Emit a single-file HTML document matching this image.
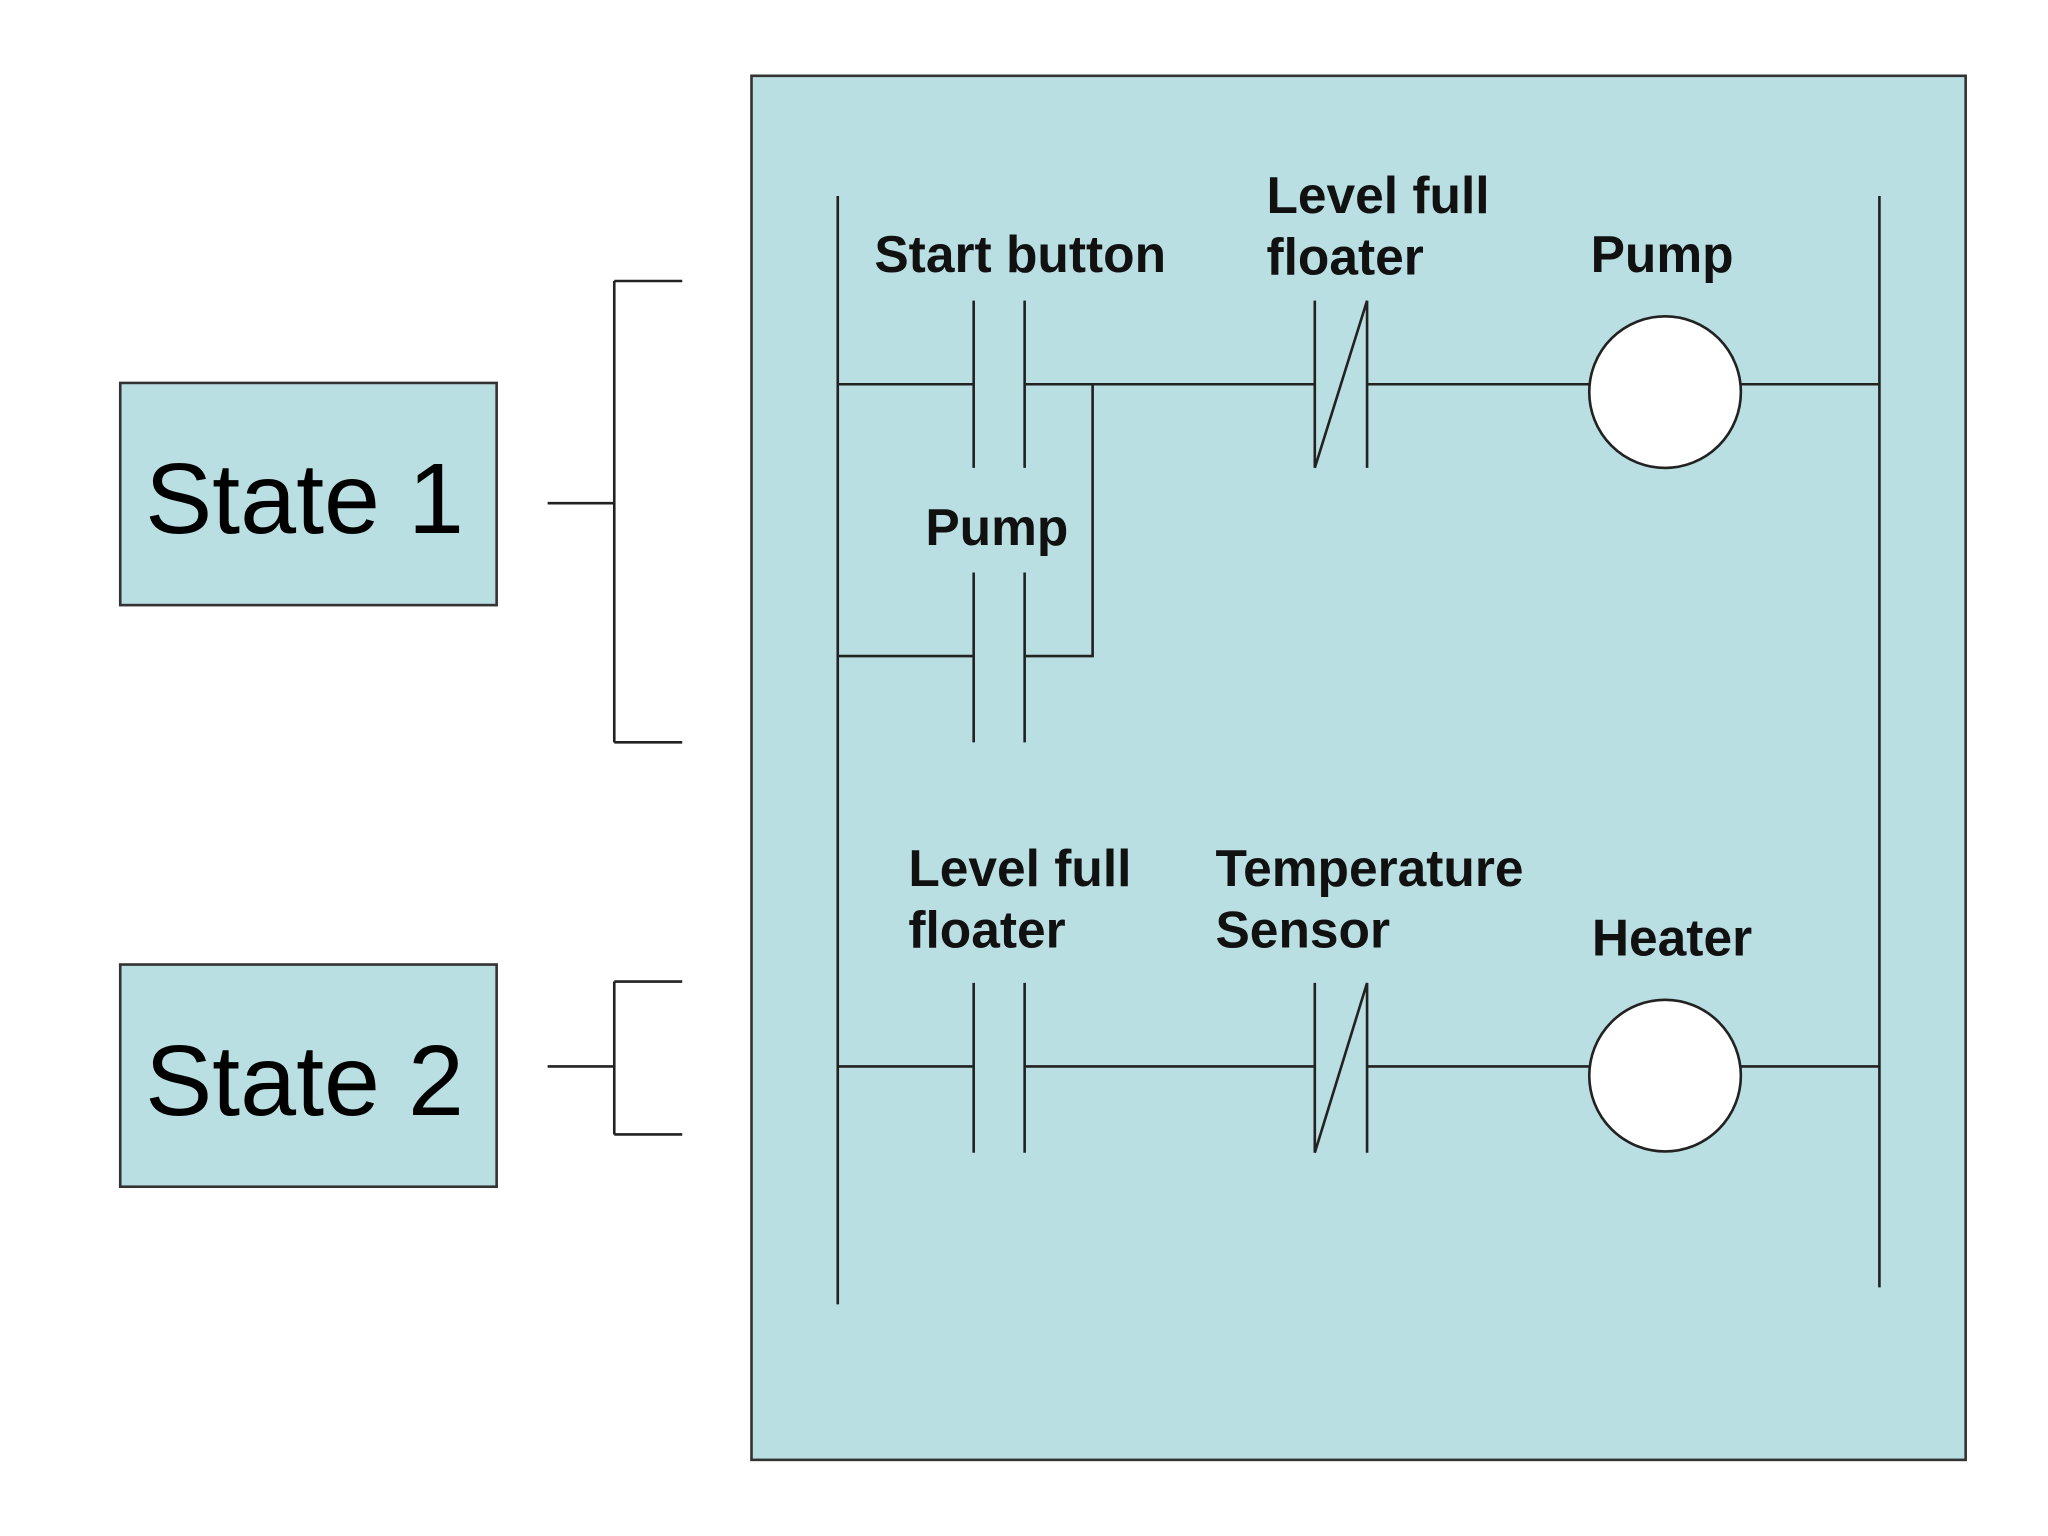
<!DOCTYPE html>
<html><head><style>html,body{margin:0;padding:0;background:#fff;}svg{display:block;}</style></head>
<body>
<svg width="2048" height="1536" viewBox="0 0 1567 1175.25" preserveAspectRatio="none" xmlns="http://www.w3.org/2000/svg">
<rect x="0" y="0" width="1567" height="1176" fill="#fff"/>
<rect x="575" y="58" width="929" height="1059" fill="#badfe2" stroke="#333" stroke-width="2"/>
<rect x="92" y="293" width="288" height="170" fill="#badfe2" stroke="#333" stroke-width="2"/>
<rect x="92" y="738" width="288" height="170" fill="#badfe2" stroke="#333" stroke-width="2"/>
<g font-family="Liberation Sans, sans-serif" font-size="77" fill="#000">
<text x="111" y="408">State 1</text>
<text x="111" y="853">State 2</text>
</g>
<g stroke="#222" stroke-width="2" fill="none">
<path d="M419 385H470M470 215V568M470 215H522M470 568H522"/>
<path d="M419 816H470M470 751V868M470 751H522M470 868H522"/>
<path d="M641 150V998M1438 150V985"/>
<path d="M641 294H745M745 230V358M784 230V358M784 294H1006M1006 230V358M1046 230V358M1006 358L1046 230M1046 294H1217M1332 294H1438"/>
<path d="M641 502H745M745 438V568M784 438V568M784 502H836V294"/>
<path d="M641 816H745M745 752V882M784 752V882M784 816H1006M1006 752V882M1046 752V882M1006 882L1046 752M1046 816H1217M1332 816H1438"/>
</g>
<circle cx="1274" cy="300" r="58" fill="#fff" stroke="#222" stroke-width="2"/>
<circle cx="1274" cy="823" r="58" fill="#fff" stroke="#222" stroke-width="2"/>
<g font-family="Liberation Sans, sans-serif" font-size="39.4" font-weight="bold" fill="#111">
<text x="669" y="208">Start button</text>
<text x="969" y="163">Level full</text>
<text x="969" y="210">floater</text>
<text x="1217" y="208">Pump</text>
<text x="708" y="417">Pump</text>
<text x="695" y="678">Level full</text>
<text x="695" y="725">floater</text>
<text x="930" y="678">Temperature</text>
<text x="930" y="725">Sensor</text>
<text x="1218" y="731">Heater</text>
</g>
</svg>
</body></html>
